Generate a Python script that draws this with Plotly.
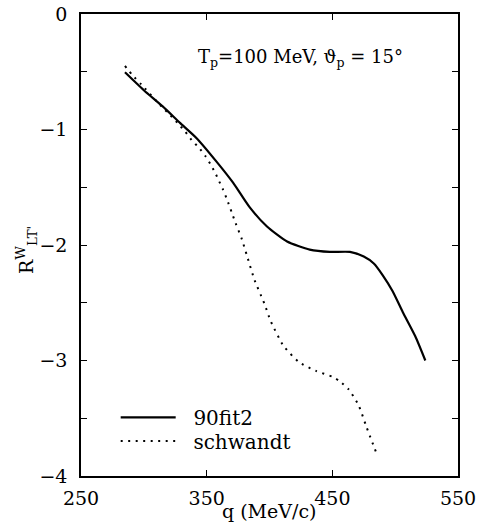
import plotly.graph_objects as go

# 90fit2 (solid)
q_fit = [285, 300, 315, 329, 342, 358, 371, 384, 398, 414, 432, 448, 464, 475, 483, 490, 498, 506, 516, 524]
r_fit = [-0.505, -0.66, -0.80, -0.945, -1.075, -1.28, -1.46, -1.67, -1.84, -1.97, -2.04, -2.06, -2.06, -2.10, -2.16, -2.26, -2.40, -2.58, -2.79, -3.00]

# schwandt (dotted)
q_sch = [285, 291, 298, 314, 321, 327, 333, 338, 344, 349, 353, 357, 360, 363, 366, 370, 373, 378, 382, 388, 396, 401, 411, 423, 437, 450, 456, 463, 471, 477, 485]
r_sch = [-0.45, -0.53, -0.61, -0.80, -0.875, -0.946, -1.02, -1.09, -1.16, -1.23, -1.30, -1.38, -1.45, -1.52, -1.60, -1.72, -1.81, -1.95, -2.09, -2.30, -2.51, -2.66, -2.87, -3.01, -3.09, -3.14, -3.18, -3.25, -3.39, -3.57, -3.80]

x_ticks = [250, 350, 450, 550]
y_ticks = [0, -1, -2, -3, -4]
y_labels = ["0", "\u22121", "\u22122", "\u22123", "\u22124"]

FONT = "DejaVu Serif"
NB = "\u00a0\u00a0"

fig = go.Figure()
fig.add_trace(go.Scatter(x=q_fit, y=r_fit, mode="lines", name=NB + "90fit2", legend="legend",
                         line=dict(color="black", width=2.2, shape="spline", smoothing=0.6)))
fig.add_trace(go.Scatter(x=q_sch, y=r_sch, mode="lines", name=NB + "schwandt", legend="legend2",
                         line=dict(color="black", width=2, dash="2px,5.5px", shape="spline", smoothing=0.6)))

axis_common = dict(showline=True, linecolor="black", linewidth=1.5, mirror="ticks",
                   ticks="inside", ticklen=6, tickwidth=1.2, tickcolor="black",
                   showgrid=False, zeroline=False, automargin=False, ticklabeloverflow="allow",
                   tickfont=dict(family=FONT, size=19, color="black"))

fig.update_xaxes(range=[250, 550], tickvals=x_ticks, ticktext=[str(v) for v in x_ticks],
                 ticklabelstandoff=4, **axis_common)
fig.update_yaxes(range=[-4, 0], tickvals=y_ticks, ticktext=y_labels,
                 minor=dict(dtick=0.5, ticks="inside", ticklen=6, tickwidth=1.2, tickcolor="black", showgrid=False),
                 ticklabelstandoff=8, **axis_common)

fig.add_annotation(text="T<sub>p</sub>=100 MeV, \u03d1<sub>p</sub> = 15\u00b0",
                   xref="paper", yref="paper", x=0.581, y=0.905, xanchor="center", yanchor="middle",
                   showarrow=False, font=dict(family=FONT, size=18, color="black"))
fig.add_annotation(text="R<sup>W</sup><sub>LT'</sub>", textangle=-90,
                   xref="paper", yref="paper", x=0, xshift=-55, y=0.489, xanchor="center", yanchor="middle",
                   showarrow=False, font=dict(family=FONT, size=19, color="black"))
fig.add_annotation(text="q (MeV/c)",
                   xref="paper", yref="paper", x=0.501, y=0, yshift=-35, xanchor="center", yanchor="middle",
                   showarrow=False, font=dict(family=FONT, size=19, color="black"))

leg_common = dict(xanchor="left", yanchor="middle", bgcolor="rgba(0,0,0,0)", itemwidth=55,
                  font=dict(family=FONT, size=20, color="black"))

fig.update_layout(template="none", width=485, height=529, margin=dict(l=81, r=27, t=14, b=53),
                  plot_bgcolor="white", paper_bgcolor="white", showlegend=True,
                  legend=dict(x=0.092, y=0.127, **leg_common),
                  legend2=dict(x=0.092, y=0.0757, **leg_common))

# remove the browser's default 8px body margin so the figure fills the window exactly
fig.write_html("out.html", post_script="document.body.style.margin='0';",
               config={"displayModeBar": False})
